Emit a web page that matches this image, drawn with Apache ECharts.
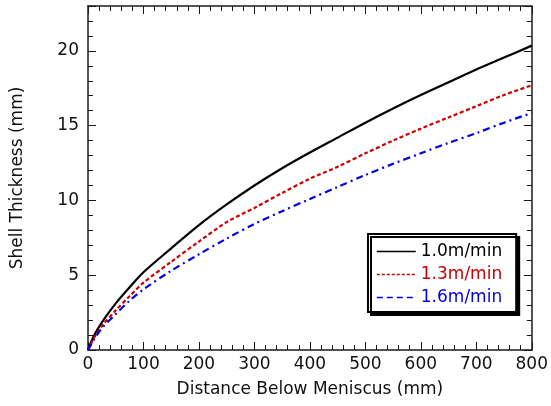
<!DOCTYPE html>
<html>
<head>
<meta charset="utf-8">
<script src="https://cdn.jsdelivr.net/npm/echarts@6/dist/echarts.min.js"></script>
<style>
  html, body { margin: 0; padding: 0; background: #fff; }
  #chart { width: 551px; height: 406px; }
</style>
</head>
<body>
<div id="chart"></div>
<script>
// distance below meniscus (mm)
const distance = [0, 10, 25, 50, 75, 100, 150, 200, 250, 300, 350, 400, 450, 500, 550, 600, 650, 700, 750, 800];
// shell thickness (mm) per casting speed
const speed10 = [0, 0.9, 1.85, 3.12, 4.2, 5.2, 6.8, 8.35, 9.73, 11.0, 12.15, 13.2, 14.2, 15.2, 16.15, 17.05, 17.9, 18.75, 19.55, 20.35];
const speed13 = [0, 0.75, 1.6, 2.65, 3.6, 4.5, 5.9, 7.25, 8.55, 9.5, 10.5, 11.45, 12.25, 13.15, 14.0, 14.8, 15.55, 16.3, 17.05, 17.7];
const speed16 = [0, 0.65, 1.45, 2.4, 3.3, 4.05, 5.3, 6.4, 7.45, 8.43, 9.28, 10.1, 10.9, 11.7, 12.45, 13.15, 13.85, 14.5, 15.2, 15.85];
const seriesNames = ['1.0m/min', '1.3m/min', '1.6m/min'];

const chart = echarts.init(document.getElementById('chart'));

const font = 'DejaVu Sans, sans-serif';
const axisColor = '#1a1a1a';

function pairs(ys) {
  return distance.map((x, i) => [x, ys[i]]);
}

// major axes carry the line, long ticks and labels; minor axes only short ticks
function xAxisCfg(pos, labels, minor) {
  return {
    type: 'value', position: pos, min: 0, max: 800, interval: minor ? 20 : 100,
    name: labels ? 'Distance Below Meniscus (mm)' : '',
    nameLocation: 'middle', nameGap: 31,
    nameTextStyle: { fontFamily: font, fontSize: 17, color: '#111' },
    axisLine: { show: !minor, onZero: false, lineStyle: { color: axisColor, width: 1.5 } },
    axisTick: { show: true, inside: true, length: minor ? 5 : 8, lineStyle: { color: axisColor, width: 1 } },
    axisLabel: { show: labels, fontFamily: font, fontSize: 17, color: '#111', margin: 6 },
    splitLine: { show: false }
  };
}

function yAxisCfg(pos, labels, minor) {
  return {
    type: 'value', position: pos, min: 0, max: 23, interval: minor ? 1 : 5,
    name: labels ? 'Shell Thickness (mm)' : '',
    nameLocation: 'middle', nameGap: 62,
    nameTextStyle: { fontFamily: font, fontSize: 17, color: '#111' },
    axisLine: { show: !minor, onZero: false, lineStyle: { color: axisColor, width: 1.5 } },
    axisTick: { show: true, inside: true, length: minor ? 5 : 8, lineStyle: { color: axisColor, width: 1 } },
    axisLabel: {
      show: labels, fontFamily: font, fontSize: 17, color: '#111', margin: 9,
      formatter: v => (v % 5 === 0 && v <= 20 ? String(v) : '')
    },
    splitLine: { show: false }
  };
}

const option = {
  animation: false,
  backgroundColor: '#fff',
  grid: { left: 88, right: 18, top: 6, bottom: 56 },
  xAxis: [
    xAxisCfg('bottom', true, false), xAxisCfg('top', false, false),
    xAxisCfg('bottom', false, true), xAxisCfg('top', false, true)
  ],
  yAxis: [
    yAxisCfg('left', true, false), yAxisCfg('right', false, false),
    yAxisCfg('left', false, true), yAxisCfg('right', false, true)
  ],
  legend: {
    left: 368, top: 234, orient: 'vertical',
    itemWidth: 39, itemHeight: 14, itemGap: 6,
    padding: [9, 14, 6, 8],
    backgroundColor: '#fff',
    borderColor: '#000', borderWidth: 2,
    shadowColor: '#000', shadowOffsetX: 3, shadowOffsetY: 3, shadowBlur: 0,
    itemStyle: { opacity: 0 },
    lineStyle: { width: 1.6 },
    textStyle: { fontFamily: font, fontSize: 17 },
    data: [
      { name: seriesNames[0], textStyle: { color: '#000' } },
      { name: seriesNames[1], textStyle: { color: '#c80000' }, lineStyle: { type: [3, 2] } },
      { name: seriesNames[2], textStyle: { color: '#0000e0' }, lineStyle: { type: [6, 4] } }
    ]
  },
  series: [
    {
      name: seriesNames[0], type: 'line', data: pairs(speed10), smooth: 0.3,
      symbol: 'none', color: '#000',
      lineStyle: { color: '#000', width: 2.2, type: 'solid' }
    },
    {
      name: seriesNames[1], type: 'line', data: pairs(speed13), smooth: 0.3,
      symbol: 'none', color: '#c80000',
      lineStyle: { color: '#c80000', width: 2.2, type: [4, 2.5] }
    },
    {
      name: seriesNames[2], type: 'line', data: pairs(speed16), smooth: 0.3,
      symbol: 'none', color: '#0000e0',
      lineStyle: { color: '#0000e0', width: 2.2, type: [7, 4, 2, 4] }
    }
  ]
};

chart.setOption(option);
</script>
</body>
</html>
